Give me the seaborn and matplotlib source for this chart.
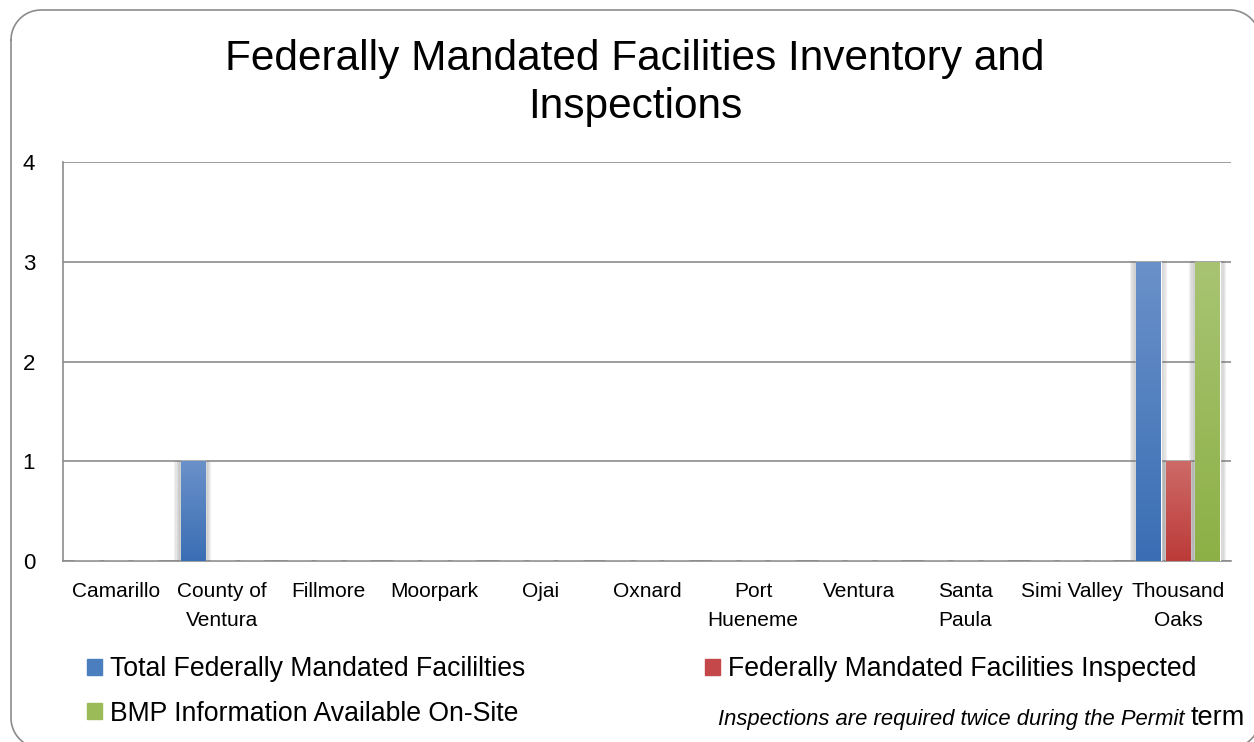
import numpy as np
import pandas as pd
import matplotlib
matplotlib.use("Agg")
import matplotlib.pyplot as plt
import matplotlib.colors as mcolors
from matplotlib.patches import Patch, Rectangle
from matplotlib.lines import Line2D
import seaborn as sns

# ==========================
# DATA
# ==========================

cities = [
    "Camarillo", "County of\nVentura", "Fillmore", "Moorpark", "Ojai",
    "Oxnard", "Port\nHueneme", "Ventura", "Santa\nPaula", "Simi Valley",
    "Thousand\nOaks",
]
total_facilities = [0, 1, 0, 0, 0, 0, 0, 0, 0, 0, 3]
inspected = [0, 0, 0, 0, 0, 0, 0, 0, 0, 0, 1]
bmp_onsite = [0, 0, 0, 0, 0, 0, 0, 0, 0, 0, 3]

series_names = [
    "Total Federally Mandated Facililties",
    "Federally Mandated Facilities Inspected",
    "BMP Information Available On-Site",
]
series_colors = ["#4A7EBF", "#C4484A", "#9BBB59"]
# light (top) / dark (bottom) ends of the bar gradients
grad_top = {"#4A7EBF": "#6A91C9", "#C4484A": "#CD6A67", "#9BBB59": "#A8C473"}
grad_bottom = {"#4A7EBF": "#3A6EB4", "#C4484A": "#BC3B39", "#9BBB59": "#8DB046"}

df = pd.DataFrame({
    "City": cities * 3,
    "Count": total_facilities + inspected + bmp_onsite,
    "Series": [series_names[0]] * 11 + [series_names[1]] * 11 + [series_names[2]] * 11,
})

# ==========================
# FIGURE
# ==========================

sns.set_style("white")
plt.rcParams["font.family"] = ["Liberation Sans", "DejaVu Sans"]
plt.rcParams["text.color"] = "black"
plt.rcParams["xtick.color"] = "black"
plt.rcParams["ytick.color"] = "black"

W, H = 1254, 742
fig = plt.figure(figsize=(W / 100, H / 100), dpi=100)
ax = fig.add_axes([63 / W, 1 - 561 / H, (1231 - 63) / W, (561 - 162) / H])

sns.barplot(
    data=df, x="City", y="Count", hue="Series",
    palette=series_colors, saturation=1, width=0.834, gap=0.17,
    ax=ax, legend=False, zorder=3,
)

# gradient + soft shadow on bars
for patch in ax.patches:
    h = patch.get_height()
    if h <= 0:
        continue
    x, w = patch.get_x(), patch.get_width()
    key = mcolors.to_hex(patch.get_facecolor()).upper()
    for k in [0.012, 0.024, 0.036, 0.048, 0.06]:
        ax.add_patch(Rectangle((x - k, 0), w + 2 * k, h + k * 0.1, color="#6e6e6e",
                               alpha=0.09, lw=0, zorder=2))
    top = np.array(mcolors.to_rgb(grad_top.get(key, key)))
    bottom = np.array(mcolors.to_rgb(grad_bottom.get(key, key)))
    t = np.linspace(0, 1, 100)[:, None]
    grad = (top[None, :] * (1 - t) + bottom[None, :] * t)[:, None, :]
    img = ax.imshow(grad, extent=[x, x + w, 0, h], aspect="auto", zorder=4,
                    origin="upper")
    img.set_clip_path(patch)

ax.set_xlim(-0.5, 10.5)
ax.set_ylim(0, 4)
ax.set_yticks([0, 1, 2, 3, 4])
ax.yaxis.grid(True, color="#8c8c8c", lw=1.2, zorder=0)
ax.set_axisbelow(True)

ax.set_xticks(range(len(cities)))
ax.set_xticklabels(cities, fontsize=15, linespacing=1.7)
ax.set_xticks(np.arange(-0.5, 11, 1), minor=True)
ax.tick_params(axis="x", which="major", length=0, pad=15)
ax.tick_params(axis="x", which="minor", length=6, color="#8c8c8c", width=1.2)
ax.tick_params(axis="y", length=0, pad=20, labelsize=16)
ax.set_xlabel("")
ax.set_ylabel("")

for side in ["top", "right"]:
    ax.spines[side].set_visible(False)
for side in ["left", "bottom"]:
    ax.spines[side].set_color("#8c8c8c")
    ax.spines[side].set_linewidth(1.2)

fig.text(635 / W, 1 - 83 / H,
         "Federally Mandated Facilities Inventory and\nInspections",
         ha="center", va="center", fontsize=30.5, linespacing=1.23)

# legend (row-wise order for ncol=2)
handles = [Patch(color=c) for c in series_colors]
order = [0, 2, 1]
fig.legend([handles[i] for i in order], [series_names[i] for i in order],
           ncol=2, loc="upper left", bbox_to_anchor=(87 / W, 1 - 656 / H),
           frameon=False, fontsize=19.2, handlelength=0.55, handleheight=0.55,
           handletextpad=0.3, columnspacing=6.75, labelspacing=0.7,
           borderpad=0, borderaxespad=0)

fig.text(1184 / W, 1 - 720 / H, "Inspections are required twice during the Permit",
         ha="right", va="center", style="italic", fontsize=15.8)
fig.text(1191 / W, 1 - 718 / H, "term", ha="left", va="center", fontsize=19.5)

# rounded frame around the chart, in pixels from the top-left corner
left, top_y, right, bottom_y, r = 11, 10, 1260, 748, 30
a = np.linspace(0, np.pi / 2, 20)
tl = (left + r - r * np.cos(a), top_y + r - r * np.sin(a))
tr = (right - r + r * np.sin(a), top_y + r - r * np.cos(a))
br = (right - r + r * np.cos(a), bottom_y - r + r * np.sin(a))
bl = (left + r - r * np.sin(a), bottom_y - r + r * np.cos(a))
px = np.concatenate([tl[0], tr[0], br[0], bl[0], tl[0][:1]])
py = np.concatenate([tl[1], tr[1], br[1], bl[1], tl[1][:1]])
fig.add_artist(Line2D(px / W, 1 - py / H, transform=fig.transFigure,
                      color="#8c8c8c", lw=1.2))

fig.savefig("out.png", dpi=100)
